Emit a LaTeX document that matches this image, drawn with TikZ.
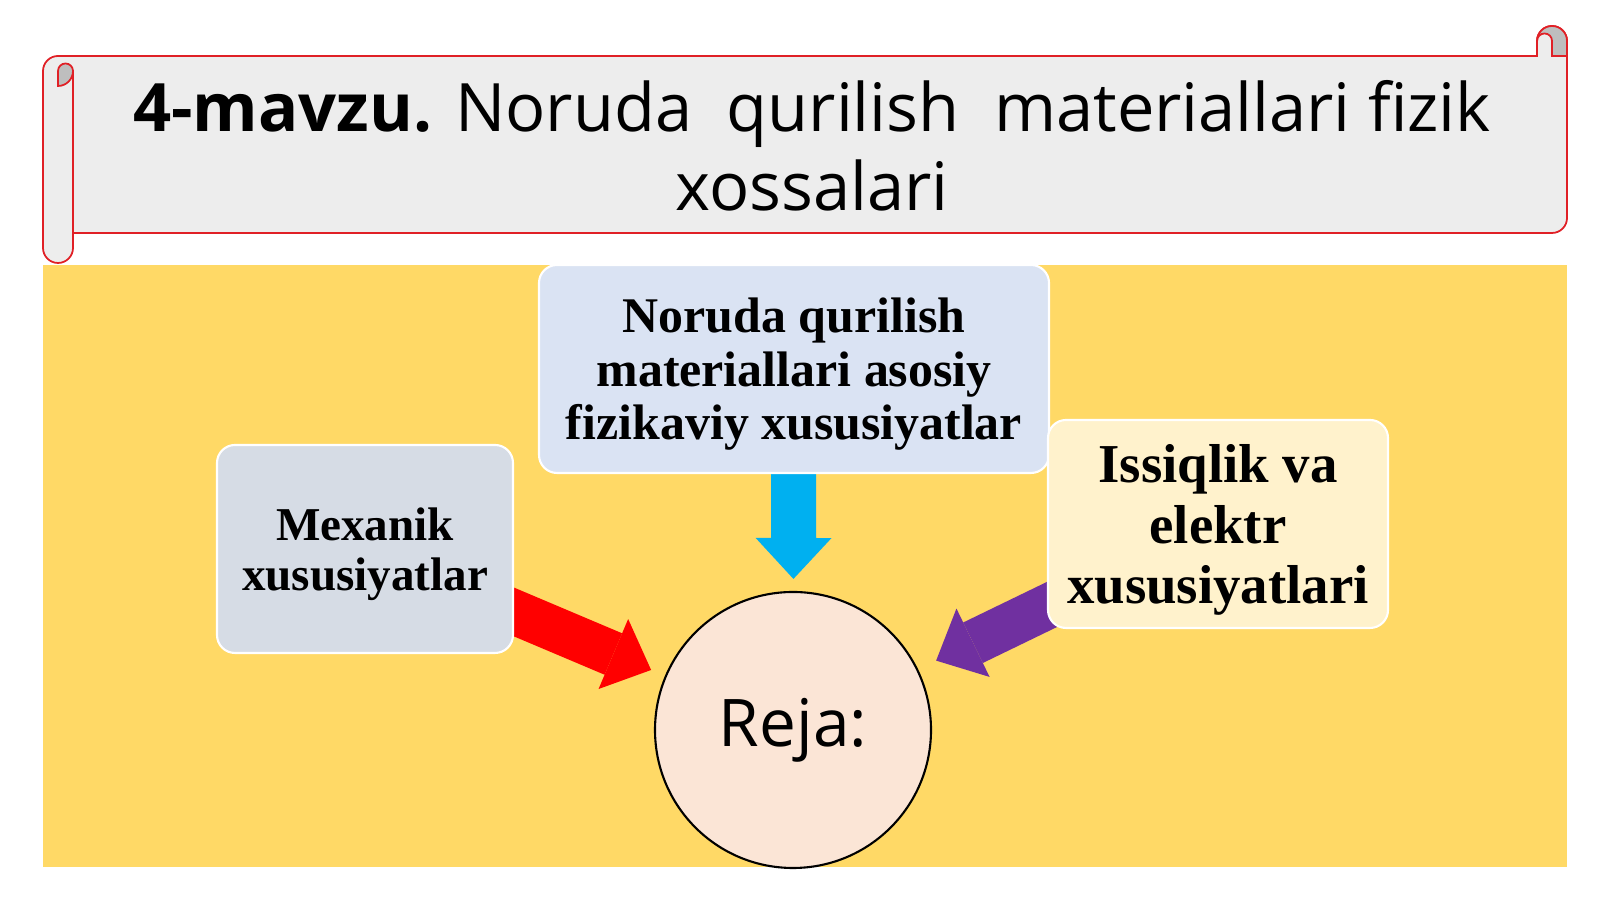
\documentclass[tikz,border=0pt]{standalone}
\usepackage{fontspec}
\setmainfont{Liberation Serif}
\newfontfamily\opensans{Open Sans}
\usetikzlibrary{arrows.meta}

\definecolor{scrollred}{RGB}{224,32,38}
\definecolor{scrollfill}{RGB}{237,237,237}
\definecolor{scrollgray}{RGB}{190,190,190}
\definecolor{gold}{RGB}{255,217,102}
\definecolor{boxblue}{RGB}{218,227,243}
\definecolor{boxgray}{RGB}{214,220,229}
\definecolor{boxcream}{RGB}{255,242,204}
\definecolor{rejafill}{RGB}{251,229,214}
\definecolor{arrowblue}{RGB}{0,176,240}
\definecolor{arrowpurple}{RGB}{112,48,160}

\pgfdeclarelayer{background}
\pgfsetlayers{background,main}

\tikzset{
  box/.style={rectangle, rounded corners=0.18cm, draw=white, line width=0.6pt,
    align=center, inner sep=0pt, text depth=0pt},
  blockarrow/.style={line width=0.45cm,
    -{Triangle[width=0.76cm, length=0.41cm, line width=0pt]}},
}

\begin{document}
\begin{tikzpicture}
  \useasboundingbox (0,0) rectangle (16,8.99);

  % Draw the scroll
  \draw[scrollred, line width=0.5pt, fill=scrollfill]
    (0.43,8.28) arc [start angle=180, end angle=90, radius=0.15]
    -- (15.37,8.43) -- (15.37,8.58) arc [start angle=180, end angle=0, radius=0.15]
    -- (15.67,6.81) arc [start angle=0, end angle=-90, radius=0.15]
    -- (0.73,6.66) -- (0.73,6.51) arc [start angle=0, end angle=-180, radius=0.15]
    -- cycle;
  \draw[scrollred, line width=0.5pt] (0.73,8.28) -- (0.73,6.66);
  \draw[scrollred, line width=0.5pt, fill=scrollgray]
    (0.58,8.13) -- (0.58,8.28) arc [start angle=180, end angle=0, radius=0.075]
    arc [start angle=0, end angle=-90, radius=0.15] -- cycle;
  \draw[scrollred, line width=0.5pt, fill=scrollgray]
    (15.37,8.58) arc [start angle=180, end angle=0, radius=0.15]
    -- (15.67,8.43) -- (15.52,8.43) -- (15.52,8.58)
    arc [start angle=0, end angle=180, radius=0.075] -- cycle;

  % Title
  \node (title) at (8.12,7.53) [align=center, font={\opensans\fontsize{19}{22.5}\selectfont}]
    {\textbf{4-mavzu.} Noruda~ qurilish~ materiallari fizik\\xossalari};

  % Boxes and the circle
  \node (asosiy) at (7.94,5.30) [box, fill=boxblue, minimum width=5.10cm, minimum height=2.08cm,
    font={\fontsize{14.2}{15.2}\selectfont\bfseries}]
    {Noruda qurilish\\materiallari asosiy\\fizikaviy xususiyatlar};
  \node (mexanik) at (3.65,3.50) [box, fill=boxgray, minimum width=2.96cm, minimum height=2.08cm,
    font={\fontsize{13.4}{14.2}\selectfont\bfseries}]
    {Mexanik\\xususiyatlar};
  \node (issiqlik) at (12.18,3.75) [box, fill=boxcream, minimum width=3.40cm, minimum height=2.08cm,
    font={\fontsize{15.6}{17.2}\selectfont\bfseries}]
    {Issiqlik va\\elektr\\xususiyatlari};
  \node (reja) at (7.93,1.69) [circle, draw, line width=0.6pt, fill=rejafill, minimum size=2.76cm,
    font={\opensans\fontsize{18.7}{22}\selectfont}] {Reja:};

  \begin{pgfonlayer}{background}
    \fill[gold] (0.43,0.32) rectangle (15.67,6.34);
    % Draw the arrows
    \draw[blockarrow, arrowblue, shorten >=0.12cm] (asosiy.center) -- (reja);
    \draw[blockarrow, red, shorten >=0.15cm] (mexanik.center) -- (reja);
    \draw[blockarrow, arrowpurple, shorten >=0.2cm] (issiqlik.center) -- (reja);
  \end{pgfonlayer}

\end{tikzpicture}
\end{document}
